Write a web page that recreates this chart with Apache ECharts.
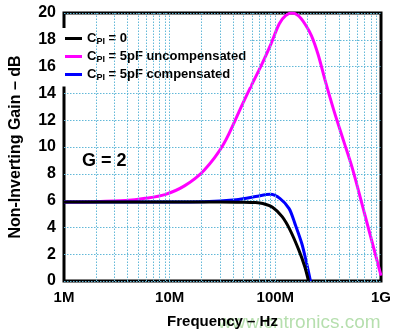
<!DOCTYPE html>
<html>
<head>
<meta charset="utf-8">
<script src="https://cdn.jsdelivr.net/npm/echarts@6/dist/echarts.min.js"></script>
<style>
html,body{margin:0;padding:0;background:#fff;}
#chart{width:402px;height:335px;}
</style>
</head>
<body>
<div id="chart"></div>
<script>
// ---- data ----
const seriesNames = ['CPI = 0', 'CPI = 5pF uncompensated', 'CPI = 5pF compensated'];

const freqBlack = [1e6, 3e6, 10e6, 30e6, 50e6, 65e6, 76e6, 94e6, 116e6, 138e6, 167e6, 190e6, 206e6];
const gainBlack = [5.9, 5.9, 5.9, 5.9, 5.88, 5.85, 5.78, 5.5, 4.8, 3.8, 2.3, 1.06, 0];

const freqMagenta = [1e6, 2e6, 3.83e6, 5.87e6, 9e6, 13.8e6, 21.1e6, 32.3e6, 49.5e6, 61.2e6, 75.8e6, 89.9e6, 109e6, 125e6, 143.6e6, 165e6, 190e6, 220e6, 254e6, 300e6, 359e6, 445e6, 536e6, 700e6, 850e6, 1000e6];
const gainMagenta = [5.9, 5.92, 6.0, 6.17, 6.45, 7.1, 8.25, 10.2, 13.3, 14.8, 16.3, 17.6, 19.2, 19.8, 20.0, 19.8, 19.2, 18.3, 16.9, 14.8, 12.7, 10.4, 8.4, 5.0, 2.5, 0.4];

const freqBlue = [1e6, 5e6, 10e6, 21e6, 42.6e6, 65e6, 90e6, 111e6, 135e6, 153e6, 178e6, 198e6, 215e6];
const gainBlue = [5.9, 5.9, 5.9, 5.92, 6.07, 6.3, 6.47, 6.15, 5.4, 4.3, 2.8, 1.3, 0];

const xTickValues = [1e6, 1e7, 1e8, 1e9];
const xTickLabels = ['1M', '10M', '100M', '1G'];
const gridFreqs = [2e6,3e6,4e6,5e6,6e6,7e6,8e6,9e6,1e7,2e7,3e7,4e7,5e7,6e7,7e7,8e7,9e7,1e8,2e8,3e8,4e8,5e8,6e8,7e8,8e8,9e8];

// ---- chart ----
const pair = (xs, ys) => xs.map((x, i) => [x, ys[i]]);
const colors = ['#000000', '#ff00ff', '#0000ff'];
const FONT = 'Arial, "Liberation Sans", sans-serif';
const gridColor = '#62b8d8';

const chart = echarts.init(document.getElementById('chart'), null, {renderer: 'canvas'});
chart.setOption({
  animation: false,
  backgroundColor: '#ffffff',
  grid: {left: 58, right: 21, top: 13, bottom: 54, show: true, borderColor: '#000', borderWidth: 3, backgroundColor: 'transparent'},
  xAxis: {
    type: 'log', logBase: 10, min: 1e6, max: 1e9,
    axisLine: {show: false}, axisTick: {show: false}, splitLine: {show: false},
    axisLabel: {
      margin: 9, color: '#000', fontFamily: FONT, fontWeight: 'bold', fontSize: 15,
      formatter: v => { const i = xTickValues.findIndex(t => Math.abs(Math.log10(t) - Math.log10(v)) < 1e-6); return i >= 0 ? xTickLabels[i] : ''; }
    },
    name: 'Frequency \u2013 Hz', nameLocation: 'middle', nameGap: 33,
    nameTextStyle: {color: '#000', fontFamily: FONT, fontWeight: 'bold', fontSize: 15}
  },
  yAxis: {
    type: 'value', min: 0, max: 20, interval: 2,
    axisLine: {show: false}, axisTick: {show: false},
    splitLine: {show: true, lineStyle: {color: gridColor, type: [1.5, 1.5], width: 1}},
    axisLabel: {margin: 8, color: '#000', fontFamily: FONT, fontWeight: 'bold', fontSize: 16},
    name: 'Non-Inverting Gain \u2013 dB', nameLocation: 'middle', nameGap: 40,
    nameTextStyle: {color: '#000', fontFamily: FONT, fontWeight: 'bold', fontSize: 16}
  },
  legend: {
    left: 59, top: 28, orient: 'vertical',
    backgroundColor: '#ffffff', padding: [4, 4, 4, 6],
    itemWidth: 17, itemHeight: 3, itemGap: 3.5, icon: 'rect',
    data: seriesNames,
    formatter: name => '{c|C}{s|PI}{c|' + name.slice(3) + '}',
    textStyle: {
      color: '#000',
      rich: {
        c: {fontFamily: FONT, fontWeight: 'bold', fontSize: 13, color: '#000', lineHeight: 16},
        s: {fontFamily: FONT, fontWeight: 'bold', fontSize: 9, color: '#000', verticalAlign: 'bottom', lineHeight: 16}
      }
    }
  },
  graphic: [
    {type: 'text', left: 218, top: 313, z: -10, style: {text: 'www.cntronics.com', fill: '#b6dfae', font: '19px ' + FONT}},
    {type: 'text', left: 82, top: 152, z: 10, style: {text: 'G = 2', fill: '#000', font: 'bold 18px ' + FONT}}
  ],
  series: [
    {
      type: 'line', name: 'grid', data: [], z: 1, silent: true,
      markLine: {
        silent: true, symbol: 'none', label: {show: false},
        lineStyle: {color: gridColor, type: [1.5, 1.5], width: 1},
        data: gridFreqs.map(f => ({xAxis: f}))
      }
    },
    {type: 'line', name: seriesNames[1], data: pair(freqMagenta, gainMagenta), smooth: 0.3, symbol: 'none', z: 3, lineStyle: {color: colors[1], width: 3}, itemStyle: {color: colors[1]}},
    {type: 'line', name: seriesNames[2], data: pair(freqBlue, gainBlue), smooth: 0.3, symbol: 'none', z: 4, lineStyle: {color: colors[2], width: 3}, itemStyle: {color: colors[2]}},
    {type: 'line', name: seriesNames[0], data: pair(freqBlack, gainBlack), smooth: 0.3, symbol: 'none', z: 5, lineStyle: {color: colors[0], width: 3}, itemStyle: {color: colors[0]}}
  ]
});
</script>
</body>
</html>
